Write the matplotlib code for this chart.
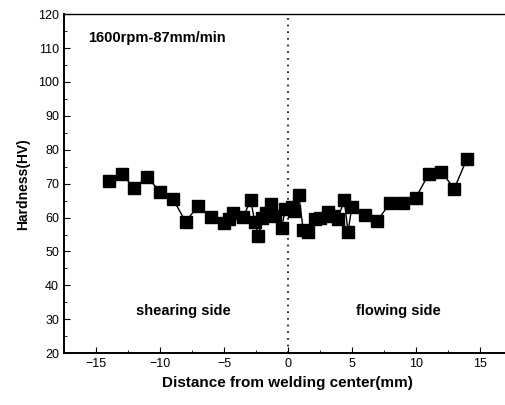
import matplotlib
matplotlib.use('Agg')
import matplotlib.pyplot as plt
from matplotlib.ticker import MultipleLocator

plt.rcParams['font.family'] = ['Liberation Sans', 'DejaVu Sans']

# distance from welding center (mm) and hardness (HV)
dist = [-14.0, -13.0, -12.0, -11.0, -10.0, -9.0, -8.0, -7.0, -6.0,
        -5.0, -4.6, -4.3, -3.5, -2.9, -2.6, -2.3, -2.0, -1.7, -1.35, -1.0,
        -0.5, -0.2, 0.3, 0.5, 0.85, 1.2, 1.6, 2.1, 2.5, 3.1, 3.5, 3.9,
        4.4, 4.7, 5.0, 6.0, 7.0, 8.0, 9.0, 10.0, 11.0, 12.0, 13.0, 14.0]
hv = [70.8, 72.8, 68.7, 72.0, 67.6, 65.6, 58.8, 63.5, 60.1,
      58.5, 59.5, 61.3, 60.2, 65.1, 58.8, 54.6, 60.0, 61.2, 64.1, 60.5,
      56.8, 62.5, 63.2, 62.0, 66.6, 56.3, 55.8, 59.7, 60.0, 61.7, 60.5, 59.7,
      65.1, 55.8, 63.2, 60.8, 59.1, 64.4, 64.2, 65.9, 72.8, 73.5, 68.5, 77.4]

fig = plt.figure(figsize=(5.06, 4.05), dpi=100)
ax = fig.add_axes([0.1265, 0.128, 0.885, 0.837])

ax.plot(dist, hv, 'k-', lw=1.0, marker='s', ms=8, mfc='black', mec='black')
ax.axvline(0, color='black', ls=(0, (1, 3)), lw=1.2)

ax.set_xlim(-17.5, 17.5)
ax.set_ylim(20, 120)
ax.xaxis.set_major_locator(MultipleLocator(5))
ax.xaxis.set_minor_locator(MultipleLocator(2.5))
ax.yaxis.set_major_locator(MultipleLocator(10))
ax.yaxis.set_minor_locator(MultipleLocator(5))
ax.tick_params(which='both', direction='in', top=False, right=False,
               labelsize=9)
ax.tick_params(which='major', length=4)
ax.tick_params(which='minor', length=2)
ax.spines['right'].set_visible(False)
ax.spines['left'].set_linewidth(1.4)
ax.spines['bottom'].set_linewidth(1.4)
ax.spines['top'].set_linewidth(1.0)

ax.set_xlabel('Distance from welding center(mm)', fontsize=11,
              fontweight='bold', labelpad=4)
ax.set_ylabel('Hardness(HV)', fontsize=10, fontweight='bold', labelpad=6)

ax.text(-15.6, 113, '1600rpm-87mm/min', fontsize=10.5, fontweight='bold',
        va='center')
ax.text(-11.9, 32.5, 'shearing side', fontsize=10.5, fontweight='bold',
        va='center')
ax.text(5.3, 32.5, 'flowing side', fontsize=10.5, fontweight='bold',
        va='center')

fig.savefig('out.png', dpi=100)
